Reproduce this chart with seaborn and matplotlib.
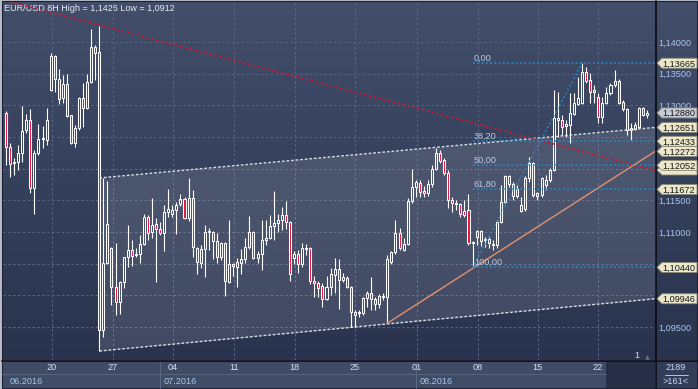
import matplotlib
matplotlib.use("Agg")
import matplotlib.pyplot as plt
import matplotlib.transforms as mtransforms
from matplotlib.colors import LinearSegmentedColormap
from matplotlib.patches import Polygon, Rectangle
import numpy as np
import pandas as pd
import seaborn as sns

# ---------------- data (EUR/USD 8H candles) ----------------
opens = [1.1288,1.1234,1.1210,1.1210,1.1225,1.1261,1.1277,1.1169,1.1225,1.1247,
         1.1245,1.1324,1.1378,1.1342,1.1312,1.1334,1.1285,1.1240,1.1264,1.1312,
         1.1296,1.1337,1.1392,1.1384,1.0945,1.1051,1.1075,1.1013,1.0989,1.1021,
         1.1060,1.1071,1.1065,1.1065,1.1081,1.1124,1.1100,1.1112,1.1105,1.1098,
         1.1131,1.1128,1.1135,1.1144,1.1152,1.1122,1.1154,1.1053,1.1051,1.1073,
         1.1100,1.1100,1.1086,1.1060,1.1082,1.1021,1.1049,1.1044,1.1051,1.1057,
         1.1076,1.1100,1.1059,1.1065,1.1087,1.1090,1.1109,1.1114,1.1119,1.1127,
         1.1116,1.1059,1.1065,1.1049,1.1073,1.1075,1.1022,1.1019,1.1014,1.0994,
         1.1013,1.1032,1.1041,1.1024,1.1027,1.1013,1.0969,1.0972,1.0972,1.0995,
         1.1003,1.0994,1.0986,1.0997,1.0997,1.1052,1.1068,1.1098,1.1071,1.1081,
         1.1149,1.1171,1.1177,1.1165,1.1161,1.1176,1.1199,1.1225,1.1214,1.1193,
         1.1150,1.1144,1.1144,1.1133,1.1135,1.1082,1.1092,1.1101,1.1087,1.1089,
         1.1079,1.1079,1.1116,1.1147,1.1188,1.1157,1.1168,1.1142,1.1137,1.1185,
         1.1209,1.1157,1.1158,1.1174,1.1182,1.1198,1.1277,1.1277,1.1267,1.1269,
         1.1286,1.1302,1.1304,1.1353,1.1340,1.1321,1.1313,1.1282,1.1304,1.1319,
         1.1332,1.1338,1.1305,1.1294,1.1261,1.1263,1.1266,1.1296,1.1285]
highs = [1.1291,1.1240,1.1217,1.1237,1.1299,1.1286,1.1294,1.1229,1.1270,1.1267,
         1.1296,1.1383,1.1379,1.1357,1.1348,1.1349,1.1285,1.1269,1.1313,1.1335,
         1.1349,1.1421,1.1395,1.1426,1.1185,1.1180,1.1076,1.1082,1.1022,1.1060,
         1.1111,1.1087,1.1075,1.1095,1.1128,1.1127,1.1154,1.1122,1.1116,1.1142,
         1.1168,1.1142,1.1147,1.1160,1.1155,1.1185,1.1166,1.1076,1.1079,1.1111,
         1.1106,1.1101,1.1098,1.1084,1.1084,1.1119,1.1051,1.1059,1.1073,1.1090,
         1.1125,1.1101,1.1070,1.1119,1.1119,1.1127,1.1165,1.1128,1.1139,1.1149,
         1.1117,1.1070,1.1071,1.1082,1.1081,1.1076,1.1030,1.1022,1.1019,1.1030,
         1.1043,1.1059,1.1057,1.1035,1.1030,1.1014,1.0977,1.0977,1.0997,1.1007,
         1.1029,1.0997,1.1002,1.1003,1.1063,1.1070,1.1119,1.1106,1.1090,1.1154,
         1.1199,1.1182,1.1182,1.1172,1.1182,1.1206,1.1233,1.1229,1.1217,1.1198,
         1.1155,1.1150,1.1146,1.1150,1.1160,1.1086,1.1103,1.1103,1.1092,1.1092,
         1.1087,1.1119,1.1174,1.1190,1.1190,1.1179,1.1174,1.1155,1.1188,1.1218,
         1.1210,1.1163,1.1187,1.1190,1.1201,1.1324,1.1321,1.1285,1.1277,1.1319,
         1.1319,1.1345,1.1367,1.1361,1.1351,1.1332,1.1319,1.1313,1.1329,1.1335,
         1.1356,1.1342,1.1308,1.1296,1.1272,1.1274,1.1298,1.1297,1.1293]
lows = [1.1206,1.1187,1.1190,1.1198,1.1210,1.1256,1.1161,1.1128,1.1221,1.1233,
        1.1237,1.1323,1.1321,1.1302,1.1304,1.1282,1.1239,1.1234,1.1261,1.1266,
        1.1294,1.1335,1.1340,1.0912,1.0934,1.1049,1.0984,1.0969,1.0970,1.1011,
        1.1044,1.1046,1.1060,1.1051,1.1079,1.1087,1.1090,1.1021,1.1095,1.1070,
        1.1124,1.1124,1.1097,1.1141,1.1120,1.1117,1.1060,1.1033,1.1043,1.1029,
        1.1071,1.1057,1.1051,1.1056,1.0999,1.1019,1.1030,1.1013,1.1033,1.1051,
        1.1073,1.1057,1.1051,1.1040,1.1079,1.1089,1.1087,1.1100,1.1103,1.1105,
        1.1022,1.1049,1.1035,1.1044,1.1063,1.1018,1.0997,1.0997,1.0981,1.0992,
        1.1000,1.1003,1.0978,1.1021,1.1011,1.0950,1.0950,1.0966,1.0969,1.0981,
        1.0977,1.0977,1.0980,1.0992,1.0956,1.1049,1.1065,1.1071,1.1070,1.1079,
        1.1146,1.1155,1.1155,1.1155,1.1157,1.1171,1.1198,1.1209,1.1190,1.1138,
        1.1131,1.1135,1.1124,1.1124,1.1079,1.1044,1.1079,1.1078,1.1076,1.1075,
        1.1071,1.1075,1.1114,1.1146,1.1171,1.1150,1.1153,1.1131,1.1133,1.1179,
        1.1155,1.1150,1.1155,1.1166,1.1179,1.1196,1.1250,1.1253,1.1250,1.1240,
        1.1285,1.1300,1.1302,1.1335,1.1304,1.1304,1.1272,1.1272,1.1302,1.1316,
        1.1329,1.1302,1.1291,1.1253,1.1245,1.1261,1.1264,1.1283,1.1280]
closes = [1.1234,1.1207,1.1209,1.1225,1.1259,1.1277,1.1169,1.1225,1.1247,1.1248,
          1.1277,1.1378,1.1342,1.1310,1.1334,1.1283,1.1240,1.1264,1.1312,1.1296,
          1.1337,1.1392,1.1383,1.0945,1.1051,1.1112,1.1013,1.0989,1.1021,1.1060,
          1.1071,1.1062,1.1063,1.1081,1.1124,1.1098,1.1111,1.1105,1.1098,1.1131,
          1.1136,1.1135,1.1142,1.1152,1.1122,1.1154,1.1076,1.1074,1.1073,1.1100,
          1.1101,1.1086,1.1060,1.1082,1.1022,1.1049,1.1046,1.1052,1.1057,1.1076,
          1.1100,1.1059,1.1065,1.1087,1.1090,1.1109,1.1114,1.1119,1.1127,1.1116,
          1.1033,1.1065,1.1049,1.1075,1.1075,1.1022,1.1019,1.1011,1.0994,1.1013,
          1.1033,1.1041,1.1024,1.1029,1.1013,1.0973,1.0973,1.0973,1.0995,1.1003,
          1.0994,1.0986,1.0999,1.0999,1.1057,1.1068,1.1098,1.1075,1.1081,1.1149,
          1.1171,1.1179,1.1163,1.1161,1.1176,1.1199,1.1225,1.1212,1.1193,1.1150,
          1.1146,1.1146,1.1128,1.1127,1.1082,1.1084,1.1101,1.1086,1.1089,1.1082,
          1.1081,1.1116,1.1147,1.1188,1.1176,1.1176,1.1157,1.1133,1.1185,1.1209,
          1.1158,1.1161,1.1185,1.1182,1.1198,1.1280,1.1280,1.1266,1.1270,1.1288,
          1.1304,1.1312,1.1353,1.1338,1.1321,1.1324,1.1282,1.1304,1.1319,1.1332,
          1.1338,1.1304,1.1294,1.1261,1.1264,1.1269,1.1296,1.1285,1.1288]

day_pos = [11.3, 26.4, 41.2, 56.2, 71.2, 86.0, 101.3, 116.3, 131.1, 145.9]
day_labels = ["20", "27", "04", "11", "18", "25", "01", "08", "15", "22"]
month_labels = ["06.2016", "07.2016", "08.2016"]
price_ticks = [1.095, 1.100, 1.105, 1.110, 1.115, 1.120, 1.125, 1.130, 1.135, 1.140]
# scale labels that the price tags cover completely are left blank
hidden_ticks = [1.100, 1.105, 1.120, 1.125]

# drawn objects (anchors)
red_trend_x = [10.6, 159.5]
red_trend_y = [1.14474, 1.11979]
channel_x = [23.0, 159.97]
channel_upper = [1.11853, 1.12651]
channel_lower = [1.09120, 1.09946]
orange_x = [93.9, 159.97]
orange_y = [1.09556, 1.12272]
fib_x = [115.0, 142.0]
fib_prices = [1.13665, 1.12433, 1.12052, 1.11672, 1.10440]
fib_labels = ["0,00", "38,20", "50,00", "61,80", "100,00"]
tag_prices = [1.13665, 1.12880, 1.12651, 1.12433, 1.12272, 1.11979, 1.12052,
              1.11672, 1.10440, 1.09946]
covered_tags = [1.11979]

# ---------------- style ----------------
sns.set_theme(style="dark")
plt.rcParams['font.family'] = ['Liberation Sans', 'DejaVu Sans']
FS = 6.6

W, H = 698, 389
fig = plt.figure(figsize=(W / 100, H / 100), dpi=100, facecolor='#b8bec9')

# background / chrome axes in pixel coordinates
bg = fig.add_axes([0, 0, 1, 1], zorder=0)
cmap = LinearSegmentedColormap.from_list('bgc', ['#424e6a', '#29334e'])
grad = np.linspace(0, 1, 256).reshape(-1, 1)
bg.imshow(grad, cmap=cmap, extent=(2, 697, 360, 1), aspect='auto',
          origin='upper', interpolation='bilinear')
bg.set_xlim(0, W)
bg.set_ylim(H, 0)
bg.axis('off')
bg.add_patch(Rectangle((2, 361), 653, 27, fc='#404b66', ec='none'))
bg.add_patch(Rectangle((606, 361), 49, 27, fc='#262f47', ec='none'))
bg.add_patch(Rectangle((656, 361), 41, 27, fc='#323d58', ec='none'))
bg.plot([2, 606], [374, 374], color='#56627e', lw=0.8)
for sx in (160, 416):
    bg.plot([sx, sx], [361, 388], color='#5a6682', lw=0.8)
bg.plot([655.5, 655.5], [1, 388], color='#0b0f18', lw=1.3)
bg.plot([2, 697], [360.5, 360.5], color='#0b0f18', lw=1.3)
bg.add_patch(Rectangle((1.5, 0.8), 695.8, 387.6, fc='none', ec='#1c2233', lw=0.8))
for lab, mx in zip(month_labels, (10, 164, 420)):
    bg.text(mx, 381.5, lab, color='#a9c6ee', fontsize=FS, ha='left', va='center')
bg.text(676, 368, "2189", color='#c9d8f0', fontsize=FS, ha='center', va='center')
bg.plot([665, 688], [374.5, 374.5], color='#c9d8f0', lw=0.6)
bg.text(676, 381.5, ">161<", color='#c9d8f0', fontsize=FS, ha='center', va='center')
bg.text(637, 355.5, "1", color='#d6deec', fontsize=FS, ha='center', va='center')
bg.plot([646.5], [357], marker='^', ms=3.2, color='#6c7690', mec='none')
bg.text(4, 8, "EUR/USD 8H High = 1,1426 Low = 1,0912", color='#e8ecf4',
        fontsize=6.5, ha='left', va='center')

# main chart axes
ax = fig.add_axes([3 / W, 1 - 360 / H, 652 / W, 358 / H], zorder=1)
ax.patch.set_alpha(0)
XMIN, XMAX = -0.74, 159.97
ax.set_xlim(XMIN, XMAX)
ax.set_ylim(1.089787, 1.146316)
for s in ax.spines.values():
    s.set_visible(False)

ax.set_xticks(day_pos, day_labels)
ylabels = ["" if any(abs(v - h) < 1e-9 for h in hidden_ticks)
           else f"{v:.5f}".replace('.', ',') for v in price_ticks]
ax.set_yticks(price_ticks, ylabels)
ax.yaxis.tick_right()
ax.tick_params(axis='x', length=0, pad=2.0, labelsize=FS, labelcolor='#d6e2f6')
ax.tick_params(axis='y', length=0, pad=2.2, labelsize=FS, labelcolor='#a8c6ee')
for lbl in ax.get_yticklabels():
    lbl.set_horizontalalignment('left')
ax.set_axisbelow(True)
ax.grid(True, color='#5b6783', lw=0.7, ls=(0, (2.5, 2.5)))

# channel
ax.fill_between(channel_x, channel_lower, channel_upper, color='white',
                alpha=0.11, lw=0, zorder=1)
for ys in (channel_upper, channel_lower):
    ax.plot(channel_x, ys, color='#d8dce4', lw=1.0, ls=(0, (2, 1.3)), zorder=2)

# candles
df = pd.DataFrame({'open': opens, 'high': highs, 'low': lows, 'close': closes})
df['i'] = np.arange(len(df))
top = df[['open', 'close']].max(axis=1)
bot = df[['open', 'close']].min(axis=1)
ax.vlines(df['i'], top, df['high'], color='white', lw=0.8, zorder=3)
ax.vlines(df['i'], df['low'], bot, color='white', lw=0.8, zorder=3)
bear = df['close'] < df['open']
hgt = (top - bot).clip(lower=0.00006)
ax.bar(df['i'], hgt, bottom=bot, width=0.5,
       color=np.where(bear, '#e8173f', 'none'), edgecolor='white',
       linewidth=0.75, zorder=4)

# red trendline
ax.axline((red_trend_x[0], red_trend_y[0]), (red_trend_x[1], red_trend_y[1]),
          color='#d0182e', lw=1.2, ls=(0, (1.4, 1.6)), zorder=5)

# orange trendline
sns.lineplot(x=orange_x, y=orange_y, ax=ax, color='#e3916e', lw=1.0, zorder=5)

# fibonacci
fib_blue = '#1f8fd2'
ax.plot(fib_x, [fib_prices[-1], fib_prices[0]], color=fib_blue, lw=1.1,
        ls=(0, (1.2, 1.6)), zorder=5)
for p, lab in zip(fib_prices, fib_labels):
    ax.plot([fib_x[0], XMAX], [p, p], color=fib_blue, lw=1.1,
            ls=(0, (1.2, 1.6)), zorder=5)
    ax.annotate(lab, xy=(fib_x[0] + 0.35, p), xytext=(0, 2.0),
                textcoords='offset points', color='#bccbe0', fontsize=FS,
                ha='left', va='baseline', zorder=6)

# price tags on the right scale
for p in tag_prices:
    cur = abs(p - closes[-1]) < 0.0001
    fc = '#c6cbd6' if cur else '#ece8c9'
    tr = fig.dpi_scale_trans + mtransforms.ScaledTranslation(XMAX, p, ax.transData)
    verts = np.array([(2, 0), (7, 5), (42, 5), (42, -5), (7, -5)]) / 100.0
    poly = Polygon(verts, closed=True, transform=tr, fc=fc, ec='#8a8872',
                   lw=0.6, clip_on=False, zorder=8)
    ax.add_artist(poly)
    if any(abs(p - cp) < 1e-9 for cp in covered_tags):
        continue
    ax.annotate(f"{p:.5f}".replace('.', ','), xy=(XMAX, p),
                xytext=(23.5 * 0.72, -3.2 * 0.72), textcoords='offset points',
                color='#15171c', fontsize=FS, ha='center', va='baseline',
                annotation_clip=False, zorder=9)

fig.savefig("out.png", dpi=100, facecolor=fig.get_facecolor())
